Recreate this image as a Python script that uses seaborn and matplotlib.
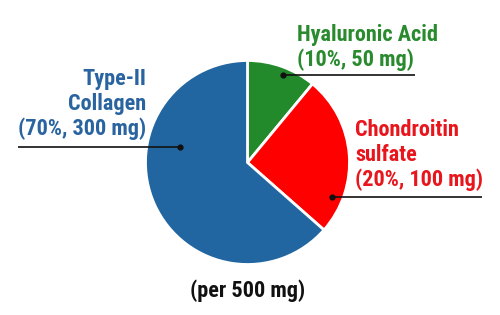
import matplotlib
matplotlib.use("Agg")
import matplotlib.pyplot as plt
import seaborn as sns

labels = ["Hyaluronic Acid\n(10%, 50 mg)", "Chondroitin\nsulfate\n(20%, 100 mg)", "Type-II\nCollagen\n(70%, 300 mg)"]
sizes = [11.0, 25.5, 63.5]
colors = ["#238a2b", "#ff0000", "#2166a1"]
text_colors = ["#2a8a2e", "#e8161c", "#2a64a0"]
footer = "(per 500 mg)"

sns.set_theme(style="white")
plt.rcParams['font.family'] = ['Roboto Condensed', 'Liberation Sans Narrow', 'Roboto', 'DejaVu Sans']

fig = plt.figure(figsize=(5, 3.15), dpi=100)
ax = fig.add_axes([0, 0, 1, 1])

H = 315
cx, cy, r = 247.5, H - 162.5, 102
ax.pie(sizes, colors=colors, startangle=90, counterclock=False,
       center=(cx, cy), radius=r,
       wedgeprops=dict(edgecolor="white", linewidth=2))
ax.set_xlim(0, 500)
ax.set_ylim(0, 315)
ax.set_aspect('equal')
ax.axis('off')

# leader lines (dot inside wedge, line to label)
leaders = [((283, 75), (415, 75)), ((332, 197), (482, 197)), ((180, 147), (18, 147))]
for (p0, p1) in leaders:
    ax.plot([p0[0], p1[0]], [H - p0[1], H - p1[1]], color="#111111", lw=1.2, solid_capstyle='butt')
    ax.plot(p0[0], H - p0[1], 'o', color="#111111", ms=3.5)

fs = 16
ls = 1.15
ax.text(297, H - 47.5, labels[0], color=text_colors[0], fontsize=fs, fontweight='bold',
        ha='left', va='center', linespacing=ls)
ax.text(355, H - 155, labels[1], color=text_colors[1], fontsize=fs, fontweight='bold',
        ha='left', va='center', linespacing=ls)
ax.text(146, H - 104, labels[2], color=text_colors[2], fontsize=fs, fontweight='bold',
        ha='right', va='center', multialignment='right', linespacing=ls)
ax.text(248, H - 291, footer, color="#111111", fontsize=fs, fontweight='bold',
        ha='center', va='center')

fig.savefig("out.png", dpi=100)
